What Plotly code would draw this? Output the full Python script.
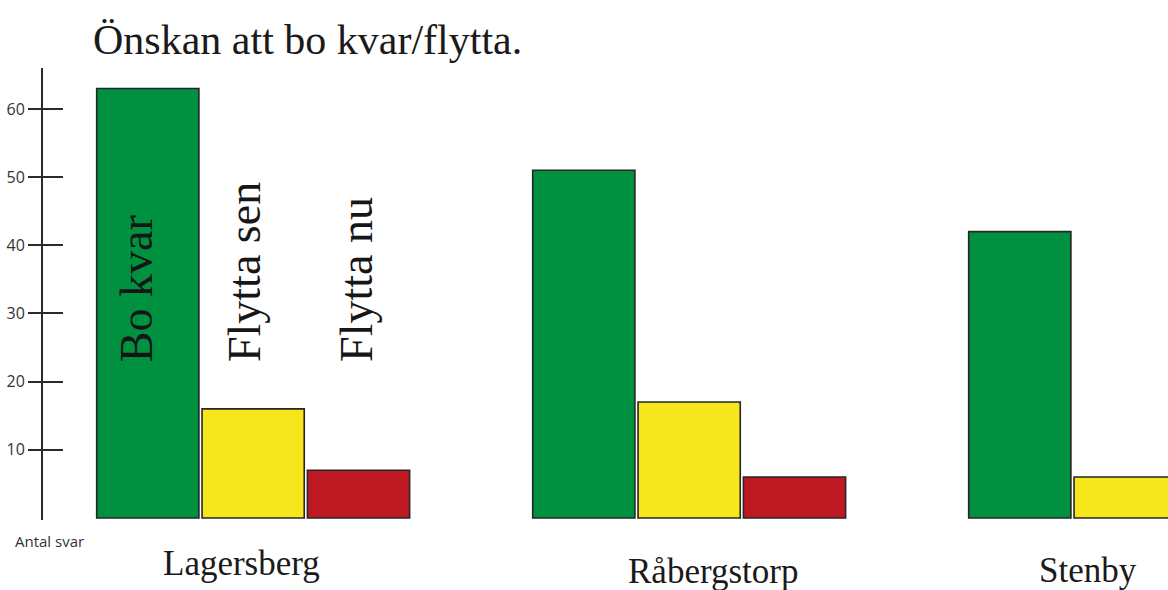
import plotly.graph_objects as go

# ---- data ----
omraden = ["Lagersberg", "Råbergstorp", "Stenby"]
serier = ["Bo kvar", "Flytta sen", "Flytta nu"]
bo_kvar = [63, 51, 42]
flytta_sen = [16, 17, 6]
flytta_nu = [7, 6, None]          # Stenby's value is outside the picture
y_ticks = [10, 20, 30, 40, 50, 60]
titel = "Önskan att bo kvar/flytta."
y_titel = "Antal svar"

# ---- style ----
farger = ["#009140", "#f6e71d", "#be1823"]
SERIF = "Liberation Serif, Times New Roman, serif"
SANS = "Open Sans, Liberation Sans, sans-serif"
BARGAP = 0.275
GROUPGAP = 0.03

fig = go.Figure()
for namn, vals, col in zip(serier, [bo_kvar, flytta_sen, flytta_nu], farger):
    fig.add_trace(go.Bar(
        x=omraden, y=vals, name=namn,
        marker=dict(color=col, line=dict(color="#262626", width=1.6)),
        showlegend=False, hoverinfo="x+y+name",
    ))
# empty trace so the overlaying axis (inner half of the tick marks) is drawn
fig.add_trace(go.Scatter(x=[], y=[], yaxis="y2", showlegend=False,
                         hoverinfo="skip"))

pitch = (1 - BARGAP) / 3
# vertical series labels above the first group
label_dx = [-11, -8, -2]
for i, namn in enumerate(serier):
    fig.add_annotation(
        x=(i - 1) * pitch, y=22.6, xref="x", yref="y",
        text=namn, textangle=-90, showarrow=False,
        xanchor="center", yanchor="bottom", xshift=label_dx[i],
        font=dict(family=SERIF, size=46, color="#161616"),
    )

# category labels
cat_shift = [(-12, -43), (24, -51), (-37, -50)]
for i, (namn, (dx, dy)) in enumerate(zip(omraden, cat_shift)):
    fig.add_annotation(
        x=i, y=0, xref="x", yref="paper", text=namn, showarrow=False,
        xanchor="center", yanchor="middle", xshift=dx, yshift=dy,
        font=dict(family=SERIF, size=35, color="#1a1a1a"),
    )

fig.add_annotation(
    x=-30 / 1125, y=0, xref="paper", yref="paper", text=y_titel,
    showarrow=False, xanchor="left", yanchor="middle", yshift=-21,
    font=dict(family=SANS, size=15, color="#333333"),
)

fig.update_layout(
    width=1168, height=590,
    margin=dict(l=43, r=0, t=68, b=70),
    paper_bgcolor="white", plot_bgcolor="white",
    barmode="group", bargap=BARGAP, bargroupgap=GROUPGAP,
    title=dict(text=titel, x=93 / 1168, xanchor="left", xref="container",
               y=1 - 39 / 590, yanchor="middle", yref="container",
               font=dict(family=SERIF, size=42, color="#1a1a1a")),
    xaxis=dict(range=[-0.482, -0.482 + 1125 / 436], showticklabels=False,
               showline=False, showgrid=False, zeroline=False, ticks=""),
    yaxis=dict(range=[-0.3, 66], tickvals=y_ticks, ticks="outside",
               ticklen=13, tickwidth=2, tickcolor="#2b2b2b",
               showline=True, linecolor="#2b2b2b", linewidth=2,
               showgrid=False, zeroline=False,
               tickfont=dict(family=SANS, size=16, color="#333333")),
    yaxis2=dict(range=[-0.3, 66], overlaying="y", side="left",
                tickvals=y_ticks, ticks="inside", ticklen=20, tickwidth=2,
                tickcolor="#2b2b2b", showticklabels=False, showline=False,
                showgrid=False, zeroline=False),
)

fig.write_html(
    "out.html",
    config={"displayModeBar": False},
    post_script="document.body.style.margin='0';document.body.style.overflow='hidden';",
)
